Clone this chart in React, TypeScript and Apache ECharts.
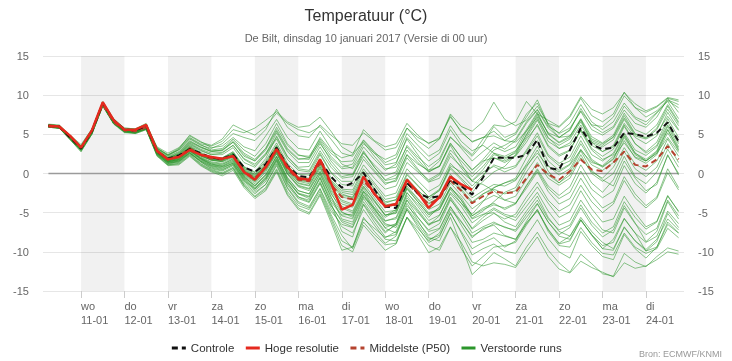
import React, { useEffect, useRef } from 'react';
import * as echarts from 'echarts';

// time grid: first value at 10-01 06:00, one value every 6 hours (hours since 10-01 00:00)
const START_H = 6;
const STEP_H = 6;
const X_MIN = 3;
const X_MAX = 357;

const dayNames = ['wo', 'do', 'vr', 'za', 'zo', 'ma', 'di', 'wo', 'do', 'vr', 'za', 'zo', 'ma', 'di'];
const dayDates = ['11-01', '12-01', '13-01', '14-01', '15-01', '16-01', '17-01', '18-01', '19-01', '20-01', '21-01', '22-01', '23-01', '24-01'];
const dayHours = [24, 48, 72, 96, 120, 144, 168, 192, 216, 240, 264, 288, 312, 336];
const shadedDays = ['11-01', '13-01', '15-01', '17-01', '19-01', '21-01', '23-01'];
const yTicks = [-15, -10, -5, 0, 5, 10, 15];

const controle = [
  6.1, 6.0, 4.6, 3.2, 5.4, 9.0, 6.8, 5.6, 5.5, 6.1,
  2.8, 1.9, 2.3, 3.1, 2.6, 2.0, 1.9, 2.4, 0.8, 0.2,
  1.2, 3.3, 1.0, -0.3, -0.5, 1.7, -0.4, -1.8, -1.2, 0.1,
  -2.0, -4.2, -4.4, -1.2, -2.5, -3.1, -2.9, -0.8, -1.6, -2.7,
  -0.5, 2.0, 2.0, 2.0, 2.4, 4.3, 0.7, 0.5, 3.0, 5.8,
  3.7, 3.1, 3.3, 5.2, 5.0, 4.7, 5.2, 6.5, 4.1,
];

const hogeResolutie = [
  6.1, 6.0, 4.8, 3.3, 5.5, 9.1, 6.8, 5.6, 5.6, 6.2,
  2.9, 1.8, 2.1, 3.0, 2.4, 2.1, 1.9, 2.2, 0.2, -0.8,
  0.8, 3.1, 0.8, -0.6, -0.8, 1.8, -1.2, -4.6, -4.0, -0.4,
  -2.6, -4.2, -3.9, -0.8, -2.4, -4.4, -3.0, -0.4, -1.4, -2.1,
];

const middelste = [
  6.0, 5.9, 4.6, 3.3, 5.4, 8.8, 6.6, 5.5, 5.4, 5.9,
  2.8, 1.8, 2.2, 3.2, 2.4, 1.9, 1.8, 2.3, 0.3, -0.6,
  0.9, 3.0, 0.6, -0.8, -1.0, 1.3, -1.4, -3.0, -3.3, -0.9,
  -2.6, -4.3, -4.0, -1.2, -2.6, -3.9, -3.2, -0.9, -2.2, -3.8,
  -2.9, -2.3, -2.5, -2.4, -0.6, 1.1, -0.1, -0.8, 0.3, 1.8,
  0.5, 0.3, 1.4, 2.8, 1.1, 0.9, 1.8, 3.5, 1.8,
];

const run01 = [6.2, 6.1, 4.7, 3.1, 5.3, 8.9, 6.7, 5.6, 5.5, 6.0, 3.2, 2.4, 3.0, 4.4, 3.6, 3.2, 3.8, 5.1, 4.6, 4.2, 5.6, 8.2, 5.9, 4.8, 4.6, 6.2, 4.9, 3.8, 3.6, 5.2, 4.1, 3.0, 3.3, 5.8, 4.6, 3.9, 4.4, 7.4, 5.2, 4.1, 4.6, 4.8, 4.2, 5.0, 7.2, 9.4, 6.3, 5.1, 5.8, 7.9, 5.6, 4.9, 5.8, 8.1, 6.4, 5.9, 7.2, 9.6, 7.8];
const run02 = [6.0, 5.8, 4.4, 3.0, 5.1, 8.7, 6.4, 5.4, 5.3, 5.7, 2.5, 1.4, 1.6, 2.7, 1.5, 0.6, 0.3, 1.0, -1.2, -2.4, -1.4, 1.2, -1.8, -3.6, -4.2, -1.9, -4.8, -6.5, -6.9, -4.0, -6.2, -8.1, -7.8, -4.6, -6.5, -8.4, -7.9, -5.1, -7.4, -9.6, -8.8, -8.2, -9.4, -8.6, -6.3, -4.8, -7.1, -8.9, -8.0, -5.9, -7.8, -9.6, -8.4, -5.7, -7.6, -9.9, -8.7, -5.1, -6.9];
const run03 = [6.1, 6.0, 4.6, 3.4, 5.5, 9.0, 6.6, 5.5, 5.4, 6.0, 2.9, 1.9, 2.4, 3.6, 2.7, 2.1, 2.0, 2.8, 0.9, 0.1, 1.6, 3.9, 1.3, -0.1, -0.2, 2.4, 0.1, -1.4, -1.6, 1.1, -0.6, -2.0, -1.6, 1.4, 0.2, -1.1, -0.6, 2.2, 0.9, -0.4, 0.9, 2.6, 2.2, 2.9, 4.6, 6.8, 4.1, 3.2, 3.9, 6.2, 4.0, 3.4, 4.3, 6.9, 4.8, 4.4, 5.1, 7.3, 5.5];
const run04 = [5.9, 5.9, 4.8, 3.5, 5.6, 9.1, 6.8, 5.6, 5.6, 6.2, 2.6, 1.5, 1.8, 2.9, 1.9, 1.2, 0.9, 1.5, -0.4, -1.6, -0.3, 2.1, -0.8, -2.6, -3.2, -0.6, -3.7, -7.4, -8.1, -3.9, -5.8, -7.6, -6.4, -2.5, -3.9, -5.6, -4.2, -1.8, -3.1, -5.4, -4.4, -3.8, -4.6, -3.9, -1.5, 0.6, -1.6, -2.8, -1.7, 1.1, -1.2, -2.4, -0.8, 2.2, -0.4, -1.3, 0.2, 3.1, 0.8];
const run05 = [6.3, 6.2, 4.9, 3.7, 5.7, 9.2, 7.0, 5.8, 5.7, 6.3, 3.4, 2.6, 3.3, 4.8, 4.0, 3.6, 4.4, 6.2, 5.5, 4.9, 6.0, 7.7, 6.4, 5.6, 5.2, 6.0, 4.4, 2.6, 2.2, 4.3, 2.8, 1.4, 2.0, 5.1, 3.6, 2.2, 3.0, 6.1, 4.1, 2.9, 3.6, 2.6, 1.8, 2.8, 5.4, 7.6, 5.1, 4.0, 4.8, 7.0, 4.7, 3.9, 4.9, 7.7, 5.6, 5.0, 6.2, 8.8, 6.6];
const run06 = [6.0, 5.9, 4.5, 3.1, 5.2, 8.8, 6.5, 5.4, 5.3, 5.8, 2.7, 1.6, 1.9, 3.0, 2.0, 1.3, 1.1, 1.9, -0.2, -1.1, 0.4, 2.6, 0.0, -1.6, -2.0, 0.2, -2.6, -4.4, -5.0, -2.2, -4.4, -6.4, -6.9, -3.8, -6.0, -8.2, -8.6, -5.6, -9.1, -12.9, -11.6, -10.1, -10.9, -11.8, -9.4, -7.5, -9.8, -11.4, -12.6, -10.3, -11.5, -12.8, -13.1, -10.2, -11.3, -11.9, -10.6, -9.5, -9.9];
const run07 = [6.1, 6.1, 4.7, 3.2, 5.4, 8.9, 6.7, 5.5, 5.5, 6.0, 2.8, 1.7, 2.3, 3.5, 2.6, 1.9, 1.7, 2.6, 0.8, 0.2, 1.9, 4.8, 2.2, 0.6, 0.4, 2.9, 0.8, -0.6, -0.4, 2.6, 1.1, -0.3, 0.2, 3.6, 2.1, 0.9, 1.9, 4.7, 3.2, 1.6, 2.8, 3.9, 3.1, 4.2, 6.4, 8.1, 5.8, 4.6, 5.5, 8.3, 6.1, 5.2, 6.0, 8.6, 7.0, 6.2, 7.7, 9.3, 8.4];
const run08 = [6.0, 5.8, 4.3, 2.8, 5.0, 8.7, 6.4, 5.3, 5.1, 5.6, 2.3, 1.1, 1.3, 2.4, 1.2, 0.4, 0.0, 0.7, -1.5, -2.9, -1.8, 0.6, -2.3, -4.1, -4.6, -2.3, -5.5, -8.6, -9.4, -5.6, -7.4, -8.9, -8.0, -4.4, -6.2, -7.9, -7.1, -4.3, -6.1, -8.2, -7.0, -6.6, -7.9, -8.4, -6.1, -3.9, -6.2, -7.8, -6.9, -4.4, -6.6, -8.1, -7.2, -4.1, -6.3, -8.7, -7.4, -3.6, -5.8];
const run09 = [6.1, 5.9, 4.6, 3.3, 5.3, 8.8, 6.6, 5.5, 5.4, 5.9, 2.7, 1.7, 2.0, 3.1, 2.2, 1.7, 1.5, 2.1, 0.0, -0.9, 0.6, 2.8, 0.2, -1.2, -1.5, 0.9, -1.8, -3.4, -3.9, -1.3, -3.1, -4.9, -4.7, -1.6, -3.2, -4.6, -3.9, -1.2, -2.8, -4.5, -3.5, -2.8, -3.4, -2.9, -0.8, 1.4, -0.6, -1.5, -0.6, 2.0, 0.2, -0.6, 0.8, 3.3, 1.2, 0.4, 1.6, 4.4, 2.2];
const run10 = [6.2, 6.0, 4.6, 3.2, 5.4, 9.0, 6.7, 5.6, 5.5, 6.1, 3.0, 2.0, 2.5, 3.8, 3.0, 2.4, 2.4, 3.3, 1.4, 0.8, 2.4, 5.2, 2.8, 1.4, 1.4, 3.8, 1.9, 0.6, 0.8, 3.4, 1.8, 0.4, 1.2, 4.6, 3.0, 1.6, 2.6, 5.6, 3.6, 2.4, 4.4, 6.2, 6.0, 6.6, 9.2, 7.6, 6.8, 6.0, 7.4, 9.8, 8.2, 7.6, 8.4, 10.3, 8.9, 8.0, 8.6, 9.7, 9.4];
const run11 = [5.9, 5.8, 4.5, 3.0, 5.2, 8.8, 6.5, 5.4, 5.3, 5.8, 2.4, 1.3, 1.5, 2.6, 1.5, 0.7, 0.4, 1.2, -0.9, -2.0, -0.8, 1.6, -1.2, -3.0, -3.4, -1.0, -4.1, -6.0, -6.5, -3.2, -5.2, -6.9, -6.4, -3.1, -4.8, -6.6, -5.9, -3.0, -5.0, -7.1, -6.0, -5.1, -5.8, -5.2, -3.0, -1.1, -3.4, -4.8, -4.0, -1.5, -3.6, -5.0, -3.9, -0.9, -3.1, -4.4, -3.2, 0.1, -2.1];
const run12 = [6.1, 6.0, 4.7, 3.3, 5.5, 9.0, 6.7, 5.5, 5.5, 6.0, 2.9, 2.0, 2.6, 4.0, 3.3, 2.8, 3.0, 4.2, 2.6, 1.8, 3.2, 5.9, 3.6, 2.3, 2.2, 4.4, 2.6, 1.5, 1.6, 4.2, 2.6, 1.1, 1.4, 4.4, 2.4, 0.4, 0.9, 3.6, 1.2, -1.0, -1.4, -2.2, -3.4, -3.8, -1.9, 0.2, -2.3, -3.9, -3.2, -0.6, -2.8, -4.4, -3.6, -0.4, -2.6, -4.1, -3.0, 0.6, -1.8];
const run13 = [6.0, 6.0, 4.6, 3.2, 5.3, 8.8, 6.6, 5.5, 5.4, 5.9, 2.7, 1.6, 1.9, 3.0, 2.0, 1.4, 1.2, 1.8, -0.3, -1.3, 0.2, 2.5, -0.1, -1.7, -2.2, 0.3, -2.4, -4.9, -5.6, -2.7, -4.6, -6.1, -5.6, -2.4, -4.2, -6.0, -5.3, -2.6, -4.2, -6.3, -5.3, -4.4, -5.2, -5.6, -3.6, -1.7, -3.8, -5.6, -4.9, -2.2, -4.5, -6.2, -5.8, -2.9, -5.0, -6.8, -6.1, -2.8, -4.9];
const run14 = [6.2, 6.1, 4.8, 3.4, 5.6, 9.1, 6.8, 5.7, 5.6, 6.2, 3.3, 2.4, 3.2, 4.6, 3.8, 3.5, 4.1, 5.6, 5.2, 5.8, 6.8, 7.9, 6.6, 5.9, 6.1, 7.2, 5.4, 3.4, 2.6, 4.0, 2.2, 0.6, 0.8, 3.4, 1.8, 0.2, 0.9, 3.9, 2.0, 0.5, 1.6, 2.0, 1.4, 2.2, 4.0, 6.3, 3.6, 2.4, 3.0, 5.6, 3.2, 2.2, 3.1, 6.0, 3.8, 2.8, 4.0, 7.0, 4.6];
const run15 = [6.0, 5.9, 4.5, 3.1, 5.2, 8.7, 6.5, 5.4, 5.3, 5.8, 2.6, 1.5, 1.7, 2.8, 1.8, 1.0, 0.7, 1.4, -0.6, -1.8, -0.6, 1.8, -1.0, -2.6, -3.0, -0.6, -3.6, -5.4, -5.8, -2.8, -4.9, -7.0, -7.6, -4.6, -6.8, -8.8, -8.1, -5.0, -7.6, -10.4, -9.6, -9.0, -9.9, -10.2, -8.0, -5.9, -8.3, -10.0, -10.8, -7.4, -9.2, -10.6, -11.0, -7.8, -9.6, -10.8, -9.4, -6.5, -7.6];
const run16 = [6.1, 6.0, 4.6, 3.2, 5.4, 8.9, 6.6, 5.5, 5.4, 6.0, 2.8, 1.8, 2.2, 3.3, 2.5, 2.0, 2.0, 2.7, 0.7, -0.1, 1.4, 3.6, 1.0, -0.4, -0.6, 1.9, -0.5, -2.0, -2.1, 0.6, -1.2, -2.9, -2.5, 0.6, -0.9, -2.3, -1.5, 1.3, -0.1, -1.6, -0.2, 1.1, 0.6, 1.0, 3.0, 5.2, 2.4, 1.3, 2.1, 4.8, 2.4, 1.6, 2.6, 5.2, 3.0, 2.3, 3.4, 6.2, 3.8];
const run17 = [6.0, 5.9, 4.6, 3.3, 5.4, 8.8, 6.6, 5.5, 5.4, 5.9, 2.8, 1.8, 2.1, 3.2, 2.3, 1.8, 1.7, 2.5, 0.4, -0.5, 1.0, 3.2, 0.6, -0.9, -1.1, 1.4, -1.2, -2.8, -3.0, -0.3, -2.0, -3.8, -3.3, -0.2, -1.6, -3.0, -2.2, 0.6, -0.8, -2.4, -1.0, 0.2, 0.9, 2.4, 5.0, 7.4, 5.2, 4.6, 5.6, 8.0, 6.2, 6.0, 7.2, 9.9, 8.4, 7.8, 8.5, 9.6, 9.2];
const run18 = [5.9, 5.8, 4.4, 2.9, 5.1, 8.7, 6.4, 5.3, 5.2, 5.7, 2.4, 1.2, 1.4, 2.5, 1.3, 0.5, 0.1, 0.8, -1.4, -2.6, -1.4, 1.0, -1.9, -3.8, -4.4, -2.0, -5.2, -7.9, -9.6, -6.2, -7.8, -9.1, -8.9, -5.6, -7.8, -10.1, -9.4, -6.8, -9.6, -11.8, -10.6, -9.4, -9.2, -8.8, -6.6, -4.6, -7.2, -9.0, -8.6, -5.9, -7.9, -9.6, -9.8, -6.9, -8.6, -9.7, -8.4, -5.8, -7.2];
const run19 = [6.1, 6.0, 4.7, 3.3, 5.4, 8.9, 6.7, 5.6, 5.5, 6.0, 2.9, 1.9, 2.3, 3.4, 2.5, 1.9, 1.9, 2.5, 0.5, -0.3, 1.0, 3.3, 0.8, -0.7, -0.9, 1.6, -1.0, -2.4, -2.7, -0.1, -1.9, -3.6, -3.4, -0.6, -2.1, -3.5, -2.8, -0.1, -1.7, -3.1, -2.2, -1.4, -1.6, -0.9, 1.2, 3.5, 1.0, -0.2, 0.6, 3.1, 1.1, 0.4, 1.4, 4.2, 2.0, 1.3, 2.4, 5.2, 2.9];
const run20 = [6.0, 5.9, 4.5, 3.1, 5.2, 8.8, 6.5, 5.4, 5.3, 5.8, 2.6, 1.4, 1.7, 2.7, 1.7, 1.0, 0.8, 1.3, -0.7, -1.9, -0.5, 1.9, -0.8, -2.5, -2.9, -0.4, -3.3, -5.3, -5.2, -2.3, -3.6, -5.4, -4.6, -1.4, -2.2, -3.3, -2.1, 1.0, 0.2, -0.9, 0.5, 2.4, 2.0, 2.6, 4.9, 7.0, 4.5, 3.6, 4.4, 6.6, 4.2, 3.6, 4.7, 7.4, 5.1, 4.5, 5.6, 8.2, 6.1];
const run21 = [6.0, 5.8, 4.4, 3.0, 5.1, 8.7, 6.4, 5.4, 5.2, 5.7, 2.5, 1.3, 1.6, 2.6, 1.6, 0.8, 0.5, 1.1, -1.0, -2.2, -1.0, 1.4, -1.5, -3.2, -3.7, -1.3, -4.4, -6.8, -7.6, -4.6, -6.6, -8.4, -8.6, -5.6, -7.4, -9.2, -9.8, -6.9, -8.8, -11.3, -11.8, -11.4, -11.6, -12.0, -10.0, -8.1, -10.6, -12.2, -12.7, -11.2, -12.0, -12.6, -13.2, -11.4, -12.1, -11.8, -11.0, -10.0, -10.3];
const run22 = [6.1, 6.0, 4.6, 3.2, 5.4, 8.9, 6.6, 5.5, 5.4, 5.9, 2.8, 1.8, 2.1, 3.2, 2.3, 1.8, 1.6, 2.3, 0.2, -0.6, 0.8, 3.0, 0.4, -1.0, -1.3, 1.1, -1.6, -3.6, -4.1, -1.6, -3.4, -5.3, -5.1, -2.0, -3.6, -5.2, -4.4, -1.7, -3.4, -5.4, -4.6, -4.0, -4.4, -3.8, -1.6, 0.4, -1.9, -3.2, -2.4, 0.3, -2.0, -3.1, -2.2, 1.0, -1.3, -2.5, -1.1, 2.3, 0.0];
const run23 = [6.2, 6.1, 4.8, 3.5, 5.6, 9.1, 6.9, 5.8, 5.7, 6.4, 3.2, 2.3, 3.1, 4.9, 4.1, 3.3, 3.5, 4.6, 3.4, 2.9, 4.8, 6.9, 4.6, 3.2, 3.0, 5.4, 3.2, 1.2, 0.6, 2.7, 0.8, -0.9, -0.6, 2.4, 0.6, -1.0, -0.2, 2.6, 0.7, -1.0, 0.2, 0.9, 0.2, 0.8, 2.8, 4.8, 2.2, 1.0, 1.6, 4.2, 1.8, 0.9, 1.9, 4.8, 2.6, 1.8, 2.9, 6.0, 3.4];
const run24 = [6.1, 6.0, 4.7, 3.4, 5.5, 9.0, 6.7, 5.6, 5.5, 6.1, 3.0, 2.1, 2.7, 4.1, 3.4, 2.9, 3.0, 4.0, 2.2, 1.6, 3.2, 5.6, 3.2, 1.9, 1.8, 4.2, 2.2, 0.8, 1.2, 3.8, 2.6, 1.8, 2.4, 5.8, 4.2, 3.2, 4.4, 7.6, 6.0, 5.4, 6.6, 9.1, 6.9, 6.1, 6.8, 8.6, 6.4, 5.9, 7.2, 9.6, 7.4, 6.6, 7.6, 10.4, 8.4, 7.2, 8.0, 9.4, 8.8];
const run25 = [6.0, 5.9, 4.5, 3.1, 5.3, 8.8, 6.5, 5.4, 5.3, 5.8, 2.6, 1.5, 1.8, 2.9, 1.9, 1.2, 1.0, 1.7, -0.4, -1.5, -0.1, 2.2, -0.5, -2.2, -2.6, -0.1, -2.9, -5.8, -6.2, -3.0, -4.4, -5.6, -4.8, -1.8, -3.3, -5.0, -4.6, -1.8, -3.4, -5.7, -4.8, -3.6, -2.4, -1.8, 0.8, 3.0, 0.3, -1.2, 0.2, 2.9, 0.4, -0.8, -1.6, 1.6, -0.6, -2.2, -1.4, 2.4, -0.2];
const run26 = [6.1, 5.9, 4.6, 3.2, 5.3, 8.8, 6.6, 5.5, 5.4, 5.9, 2.7, 1.7, 2.1, 3.2, 2.3, 1.7, 1.5, 2.2, 0.1, -0.8, 0.7, 2.8, 0.3, -1.3, -1.6, 0.8, -2.0, -3.9, -4.3, -1.7, -3.5, -5.3, -5.0, -1.9, -3.6, -5.3, -4.6, -2.0, -3.8, -5.8, -5.2, -5.0, -6.2, -6.8, -4.8, -2.9, -5.6, -7.4, -8.0, -5.6, -7.4, -8.8, -9.6, -6.8, -8.6, -9.9, -9.4, -6.2, -7.6];
const run27 = [6.0, 6.0, 4.6, 3.3, 5.4, 8.9, 6.6, 5.5, 5.4, 6.0, 2.8, 1.8, 2.2, 3.4, 2.5, 2.0, 1.9, 2.6, 0.6, -0.2, 1.2, 3.5, 1.0, -0.5, -0.8, 1.7, -0.8, -2.2, -2.4, 0.3, -1.5, -3.3, -3.0, 0.0, -1.5, -3.0, -2.0, 0.8, -0.6, -2.0, -0.4, 2.0, 1.6, 2.3, 4.4, 6.1, 3.4, 2.2, 2.9, 5.6, 3.6, 2.8, 3.6, 6.4, 4.6, 3.8, 4.8, 7.8, 5.6];
const run28 = [6.2, 6.1, 4.7, 3.3, 5.5, 9.0, 6.8, 5.6, 5.5, 6.1, 3.1, 2.2, 2.8, 4.2, 3.4, 2.8, 2.9, 4.0, 2.4, 1.6, 3.0, 5.4, 3.0, 1.8, 2.0, 4.6, 2.9, 2.0, 2.4, 5.6, 4.2, 3.4, 3.8, 6.4, 4.9, 3.8, 4.6, 7.2, 5.4, 4.0, 4.6, 5.4, 4.2, 4.0, 5.4, 7.2, 4.6, 3.2, 3.6, 5.4, 3.0, 1.8, 2.4, 5.0, 2.6, 1.6, 2.8, 5.6, 3.2];
const run29 = [5.9, 5.8, 4.3, 2.8, 5.0, 8.6, 6.3, 5.2, 5.1, 5.6, 2.2, 1.0, 1.1, 2.2, 1.0, 0.2, -0.3, 0.4, -1.8, -3.2, -2.2, 0.2, -2.8, -4.6, -5.2, -2.8, -6.2, -9.8, -9.4, -5.8, -7.0, -8.2, -7.4, -4.1, -5.6, -7.2, -6.4, -3.4, -5.0, -7.0, -5.6, -4.6, -5.4, -6.0, -4.2, -2.4, -4.8, -6.6, -6.0, -3.4, -5.4, -7.2, -7.6, -4.4, -6.4, -7.8, -7.0, -3.4, -5.4];
const run30 = [6.1, 5.9, 4.6, 3.3, 5.4, 8.8, 6.6, 5.5, 5.4, 5.9, 2.8, 1.8, 2.2, 3.2, 2.4, 1.9, 1.8, 2.3, 0.3, -0.6, 0.9, 3.0, 0.6, -0.8, -1.0, 1.3, -1.4, -3.0, -3.3, -0.9, -2.6, -4.3, -4.0, -1.2, -2.6, -3.9, -3.2, -0.9, -2.2, -3.8, -2.6, -1.8, -1.2, -0.8, 1.0, 2.6, 0.9, 0.2, 1.1, 3.0, 1.4, 1.0, 2.2, 3.9, 2.1, 1.6, 2.6, 4.6, 2.7];
const run31 = [6.0, 5.9, 4.5, 3.2, 5.3, 8.8, 6.5, 5.4, 5.3, 5.8, 2.7, 1.6, 2.0, 3.1, 2.1, 1.5, 1.3, 2.0, -0.1, -1.0, 0.5, 2.7, 0.0, -1.5, -1.9, 0.6, -2.2, -4.2, -4.8, -1.9, -4.0, -6.0, -5.8, -2.8, -4.6, -6.4, -6.0, -3.2, -5.4, -7.6, -6.8, -6.2, -6.9, -7.2, -5.2, -3.4, -5.8, -7.2, -6.6, -4.0, -6.2, -7.6, -6.8, -3.6, -5.6, -7.1, -6.2, -2.9, -4.8];
const run32 = [6.1, 6.0, 4.7, 3.4, 5.5, 9.0, 6.7, 5.6, 5.5, 6.1, 3.0, 2.0, 2.5, 3.9, 3.1, 2.6, 2.7, 3.6, 1.9, 1.2, 2.6, 4.6, 2.1, 0.8, 0.9, 3.4, 1.2, -0.4, -0.1, 2.9, 0.8, -0.8, -0.2, 3.0, 1.4, 0.2, 1.0, 3.8, 2.0, 0.4, 1.8, 3.4, 2.8, 3.4, 5.6, 7.8, 5.0, 3.9, 4.6, 6.9, 4.4, 3.8, 4.6, 7.1, 5.0, 4.6, 5.8, 8.6, 6.4];
const run33 = [6.0, 5.8, 4.4, 3.0, 5.2, 8.7, 6.4, 5.3, 5.2, 5.7, 2.5, 1.3, 1.5, 2.6, 1.6, 0.9, 0.6, 1.3, -0.8, -2.0, -0.7, 1.7, -1.3, -3.0, -3.6, -1.2, -4.0, -6.2, -6.8, -3.6, -5.6, -7.4, -6.6, -3.4, -5.0, -6.6, -5.4, -2.4, -3.8, -5.2, -3.6, -1.8, -1.2, -0.6, 2.0, 4.2, 1.6, 0.4, 1.2, 3.8, 1.6, 0.8, 1.8, 4.6, 2.4, 1.6, 2.6, 5.6, 3.0];
const run34 = [6.1, 5.9, 4.5, 3.1, 5.3, 8.8, 6.5, 5.4, 5.3, 5.8, 2.6, 1.5, 1.8, 2.9, 1.9, 1.1, 0.9, 1.6, -0.5, -1.6, -0.2, 2.2, -0.6, -2.2, -2.6, 0.0, -3.0, -5.0, -5.4, -2.4, -4.6, -6.6, -6.6, -3.4, -5.6, -7.4, -7.0, -4.2, -6.6, -8.8, -8.4, -7.6, -8.0, -8.4, -6.4, -4.6, -7.4, -9.2, -9.4, -6.9, -8.8, -10.2, -10.4, -7.6, -9.4, -10.2, -9.6, -7.0, -8.2];
const run35 = [6.0, 6.0, 4.7, 3.3, 5.4, 8.9, 6.7, 5.5, 5.5, 6.0, 2.8, 1.7, 2.1, 3.3, 2.3, 1.7, 1.6, 2.4, 0.4, -0.4, 1.1, 3.4, 0.8, -0.6, -0.8, 1.6, -1.0, -2.6, -3.1, -0.6, -2.4, -4.0, -3.8, -0.8, -2.4, -3.8, -3.0, -0.4, -2.0, -3.6, -2.6, -2.0, -2.6, -2.2, 0.2, 2.2, -0.2, -1.2, -0.2, 2.4, 0.0, -1.0, 0.0, 2.8, 0.6, -0.4, 0.8, 3.8, 1.4];
const run36 = [6.1, 6.0, 4.6, 3.3, 5.4, 8.9, 6.7, 5.5, 5.5, 6.0, 2.9, 1.9, 2.4, 3.7, 2.9, 2.4, 2.6, 3.6, 1.8, 1.0, 2.4, 4.4, 1.8, 0.4, 0.2, 2.6, 0.2, -1.0, -1.0, 1.8, 0.2, -1.4, -0.8, 2.4, 1.2, 0.4, 1.6, 4.6, 3.4, 2.2, 3.8, 6.0, 4.6, 5.2, 7.6, 9.0, 6.2, 4.6, 4.8, 6.8, 4.0, 2.8, 3.4, 6.2, 3.8, 2.6, 3.6, 6.6, 4.0];
const run37 = [5.9, 5.8, 4.4, 3.0, 5.1, 8.6, 6.4, 5.3, 5.2, 5.7, 2.3, 1.1, 1.2, 2.3, 1.1, 0.3, -0.1, 0.6, -1.6, -3.0, -2.0, 0.4, -2.6, -4.4, -5.0, -2.6, -5.8, -9.2, -10.0, -6.6, -8.2, -9.8, -9.0, -5.6, -7.0, -8.6, -7.6, -4.6, -6.2, -8.0, -7.2, -6.4, -6.8, -7.4, -5.6, -3.8, -6.2, -8.0, -8.4, -6.0, -7.8, -9.2, -8.8, -5.8, -7.6, -8.8, -8.0, -4.8, -6.4];
const run38 = [6.2, 6.1, 4.8, 3.5, 5.6, 9.1, 6.9, 5.7, 5.6, 6.2, 3.2, 2.3, 3.0, 4.5, 3.7, 3.0, 3.2, 4.4, 3.0, 2.2, 3.8, 6.4, 3.8, 2.4, 2.0, 4.0, 1.6, 0.0, -0.2, 2.2, 0.4, -1.2, -1.0, 2.0, 0.4, -0.8, 0.0, 3.0, 1.6, 0.0, 1.4, 3.0, 3.6, 4.4, 6.6, 8.2, 6.0, 5.2, 6.4, 8.8, 6.6, 5.6, 6.6, 9.0, 7.2, 6.6, 7.8, 9.2, 7.0];

const runs = [run01, run02, run03, run04, run05, run06, run07, run08, run09, run10, run11, run12, run13, run14, run15, run16, run17, run18, run19, run20, run21, run22, run23, run24, run25, run26, run27, run28, run29, run30, run31, run32, run33, run34, run35, run36, run37, run38];

const FONT = 'Liberation Sans, Arial, sans-serif';

const toPairs = (vals: number[]) => vals.map((v, i) => [START_H + i * STEP_H, v]);

export default function App() {
  const ref = useRef<HTMLDivElement>(null);
  useEffect(() => {
    document.body.style.margin = '0';
    const chart = echarts.init(ref.current!, null, { renderer: 'svg' });
    const bands = shadedDays.map((d) => {
      const h = dayHours[dayDates.indexOf(d)];
      return [{ xAxis: h }, { xAxis: h + 24 }];
    });
    const lastH = START_H + (controle.length - 1) * STEP_H;
    const series: any[] = [
      {
        name: 'nullijn',
        type: 'line',
        data: [[START_H, 0], [lastH, 0]],
        symbol: 'none',
        silent: true,
        z: 1,
        lineStyle: { color: '#9b9b9b', width: 1.5 },
        markArea: {
          silent: true,
          itemStyle: { color: 'rgba(0,0,0,0.055)' },
          data: bands,
        },
      },
    ];
    runs.forEach((r) => {
      series.push({
        name: 'Verstoorde runs',
        type: 'line',
        data: toPairs(r),
        symbol: 'none',
        silent: true,
        z: 2,
        color: '#2b962b',
        lineStyle: { color: '#2b962b', width: 1, opacity: 0.55 },
      });
    });
    series.push({
      name: 'Middelste (P50)',
      type: 'line',
      data: toPairs(middelste),
      symbol: 'none',
      z: 3,
      color: '#b5432f',
      lineStyle: { color: '#b5432f', width: 2, type: [6, 4] },
    });
    series.push({
      name: 'Controle',
      type: 'line',
      data: toPairs(controle),
      symbol: 'none',
      z: 4,
      color: '#111111',
      lineStyle: { color: '#111111', width: 2, type: [6, 4] },
    });
    series.push({
      name: 'Hoge resolutie',
      type: 'line',
      data: toPairs(hogeResolutie),
      symbol: 'none',
      z: 5,
      color: '#e5291e',
      lineStyle: { color: '#e5291e', width: 2.5 },
    });

    const yAxisBase = {
      type: 'value',
      min: yTicks[0],
      max: yTicks[yTicks.length - 1],
      interval: 5,
      axisLine: { show: false },
      axisTick: { show: false },
      axisLabel: { color: '#666', fontSize: 11, fontFamily: FONT, margin: 14 },
    };

    const legendItem = (name: string, extra: any = {}) => ({
      name,
      itemStyle: { opacity: 0 },
      lineStyle: { width: 3, opacity: 1, ...extra },
    });

    chart.setOption({
      animation: false,
      textStyle: { fontFamily: FONT },
      title: [
        {
          text: 'Temperatuur (°C)',
          left: 'center',
          top: 2,
          textStyle: { fontSize: 16, color: '#333', fontWeight: 'normal', fontFamily: FONT },
        },
        {
          text: 'De Bilt, dinsdag 10 januari 2017 (Versie di 00 uur)',
          left: 'center',
          top: 27,
          textStyle: { fontSize: 11, color: '#666', fontWeight: 'normal', fontFamily: FONT },
        },
      ],
      grid: { left: 43, right: 48, top: 56, bottom: 70 },
      xAxis: {
        type: 'value',
        min: X_MIN,
        max: X_MAX,
        splitLine: { show: false },
        axisLine: { show: false, onZero: false },
        axisTick: {
          show: true,
          customValues: dayHours,
          length: 7,
          lineStyle: { color: '#cccccc' },
        },
        axisLabel: {
          customValues: dayHours,
          align: 'left',
          margin: 8,
          color: '#666',
          fontSize: 11,
          lineHeight: 14,
          fontFamily: FONT,
          formatter: (v: number) => {
            const i = dayHours.indexOf(v);
            return i >= 0 ? dayNames[i] + '\n' + dayDates[i] : '';
          },
        },
      },
      yAxis: [
        { ...yAxisBase, position: 'left', splitLine: { show: true, lineStyle: { color: '#e6e6e6' } } },
        { ...yAxisBase, position: 'right', splitLine: { show: false } },
      ],
      legend: {
        top: 337,
        left: 'center',
        itemWidth: 14,
        itemHeight: 10,
        itemGap: 10,
        textStyle: { fontSize: 11.5, color: '#333', fontFamily: FONT },
        data: [
          legendItem('Controle'),
          legendItem('Hoge resolutie'),
          legendItem('Middelste (P50)'),
          legendItem('Verstoorde runs', { color: '#2b962b' }),
        ],
      },
      graphic: [
        {
          type: 'text',
          right: 10,
          top: 349,
          style: { text: 'Bron: ECMWF/KNMI', fill: '#999', fontSize: 9, fontFamily: FONT },
        },
      ],
      series,
    });
    return () => chart.dispose();
  }, []);
  return <div ref={ref} style={{ position: 'fixed', left: 0, top: 0, width: 732, height: 361 }} />;
}
